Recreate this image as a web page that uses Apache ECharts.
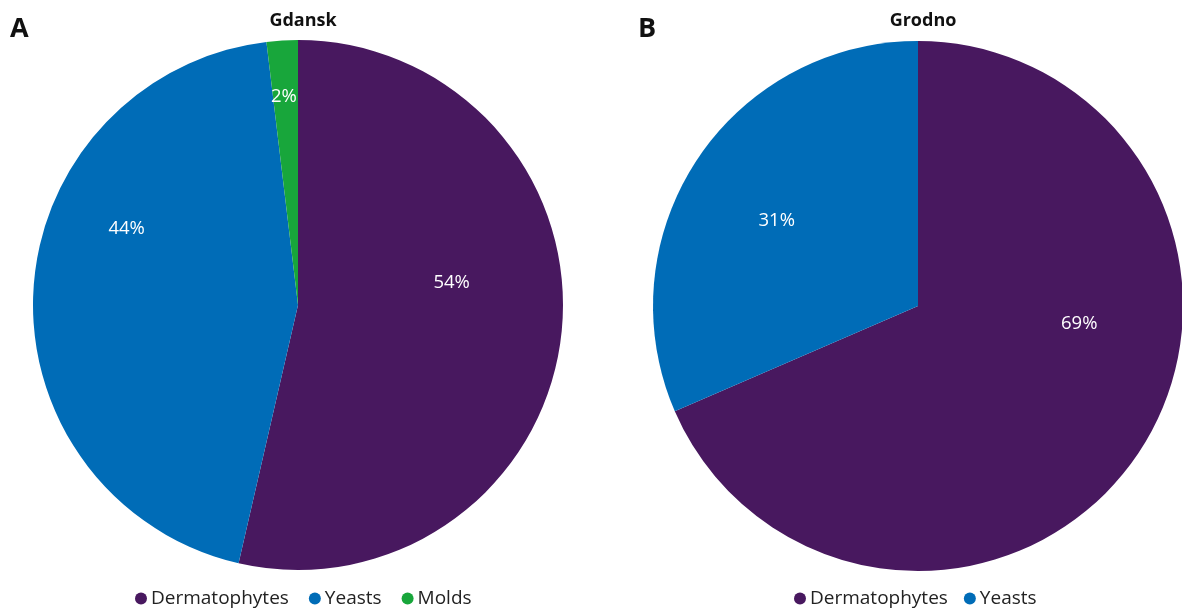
<!DOCTYPE html>
<html><head><meta charset="utf-8">
<script src="https://cdn.jsdelivr.net/npm/echarts@6/dist/echarts.min.js"></script>
<style>html,body{margin:0;padding:0;background:#fff}#c{width:1182px;height:610px}</style>
</head><body><div id="c"></div>
<script>
const categories = ['Dermatophytes', 'Yeasts', 'Molds'];
const colors = ['#48185f', '#006cb7', '#18a63b'];
const gdanskValues = [53.6, 44.5, 1.9];
const gdanskLabels = ['54%', '44%', '2%'];
const grodnoValues = [68.5, 31.5];
const grodnoLabels = ['69%', '31%'];
const gdanskLabelOffsets = [[19, -38], [-36, -69], [-6, -73]];
const grodnoLabelOffsets = [[48, -57], [-28, -11]];

function buildData(vals, labels, offs) {
  return vals.map((v, i) => ({
    name: categories[i], value: v,
    itemStyle: { color: colors[i] },
    label: { offset: offs[i], formatter: labels[i] }
  }));
}
const font = 'Open Sans';
const chart = echarts.init(document.getElementById('c'));
const pieCommon = {
  type: 'pie', radius: 265, startAngle: 90, clockwise: true,
  avoidLabelOverlap: false,
  label: { show: true, position: 'inside', color: '#fff', fontSize: 18.5, fontFamily: font },
  labelLine: { show: false },
  itemStyle: { borderWidth: 0 },
  emphasis: { disabled: true },
  animation: false
};
const legendCommon = {
  top: 584, icon: 'circle', itemWidth: 12, itemHeight: 12,
  textStyle: { fontSize: 19, fontFamily: font, color: '#222', padding: [0, 0, 0, -1] }
};
chart.setOption({
  animation: false,
  title: [
    { text: 'Gdansk', left: 298, top: 7, textAlign: 'center', textStyle: { fontSize: 18, fontWeight: 'bold', fontFamily: font, color: '#111' } },
    { text: 'Grodno', left: 918, top: 7, textAlign: 'center', textStyle: { fontSize: 18, fontWeight: 'bold', fontFamily: font, color: '#111' } },
    { text: 'A', left: 5, top: 11, textStyle: { fontSize: 27, fontWeight: 'bold', fontFamily: font, color: '#111' } },
    { text: 'B', left: 633, top: 11, textStyle: { fontSize: 27, fontWeight: 'bold', fontFamily: font, color: '#111' } }
  ],
  legend: [
    Object.assign({}, legendCommon, { data: categories, left: 130, itemGap: 20 }),
    Object.assign({}, legendCommon, { data: categories.slice(0, 2), left: 789, itemGap: 16 })
  ],
  series: [
    Object.assign({}, pieCommon, { name: 'Gdansk', center: [298, 305], data: buildData(gdanskValues, gdanskLabels, gdanskLabelOffsets) }),
    Object.assign({}, pieCommon, { name: 'Grodno', center: [918, 306], data: buildData(grodnoValues, grodnoLabels, grodnoLabelOffsets) })
  ]
});
</script></body></html>
